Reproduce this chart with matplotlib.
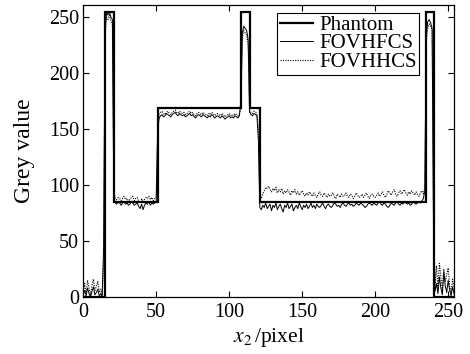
import numpy as np
import matplotlib
matplotlib.use("Agg")
import matplotlib.pyplot as plt

# Phantom step profile
phantom_edges = [0, 15, 21, 51, 108, 114, 121, 235, 240, 256]
phantom_levels = [0, 255, 85, 169, 255, 169, 85, 255, 0]

# FOVHFCS profile (one value per pixel)
fovhfcs = [
    2, 6, 1, 8, 3, 0, 5, 9, 2, 4,
    7, 1, 3, 0, 45, 240, 254, 252, 255, 250,
    248, 90, 84, 83, 85, 84, 82, 84, 85, 83,
    84, 82, 83, 85, 84, 82, 83, 84, 81, 79,
    83, 78, 82, 84, 83, 85, 82, 84, 83, 84,
    85, 150, 160, 162, 163, 161, 162, 164, 163, 162,
    161, 163, 164, 165, 163, 162, 164, 163, 162, 163,
    161, 162, 163, 164, 162, 163, 161, 160, 162, 163,
    162, 161, 163, 162, 161, 160, 162, 161, 163, 162,
    160, 161, 162, 161, 160, 162, 161, 159, 160, 161,
    162, 160, 161, 160, 162, 161, 160, 162, 175, 236,
    242, 240, 238, 230, 165, 163, 162, 164, 163, 162,
    140, 80, 78, 82, 80, 84, 79, 81, 83, 77,
    82, 80, 84, 78, 81, 83, 79, 76, 82, 80,
    84, 79, 81, 83, 77, 80, 82, 79, 84, 81,
    78, 82, 80, 83, 79, 81, 84, 80, 82, 79,
    83, 81, 80, 82, 84, 81, 79, 82, 83, 81,
    80, 82, 84, 83, 81, 82, 80, 83, 84, 82,
    81, 83, 84, 82, 83, 81, 82, 84, 83, 82,
    84, 83, 82, 80, 81, 83, 84, 83, 82, 84,
    83, 82, 84, 85, 83, 82, 84, 83, 81, 80,
    82, 84, 83, 82, 84, 85, 83, 82, 84, 83,
    85, 84, 83, 84, 82, 83, 85, 84, 83, 84,
    85, 84, 86, 88, 95, 235, 246, 248, 245, 240,
    60, 5, 12, 3, 18, 8, 2, 22, 10, 4,
    15, 6, 1, 9, 3, 0,
]

# FOVHHCS profile (one value per pixel)
fovhhcs = [
    5, 12, 3, 15, 8, 2, 10, 16, 6, 9,
    14, 4, 7, 2, 30, 235, 250, 248, 252, 246,
    244, 95, 88, 87, 89, 88, 86, 88, 90, 87,
    88, 86, 87, 89, 90, 86, 88, 89, 86, 84,
    88, 85, 87, 89, 88, 90, 87, 89, 86, 88,
    89, 140, 164, 165, 166, 164, 163, 165, 166, 164,
    163, 165, 166, 167, 165, 164, 166, 165, 164, 165,
    163, 164, 165, 166, 164, 165, 163, 162, 164, 165,
    164, 163, 165, 164, 163, 162, 164, 163, 165, 164,
    162, 163, 164, 163, 162, 164, 163, 161, 162, 163,
    164, 162, 163, 162, 164, 163, 162, 164, 170, 232,
    238, 236, 234, 225, 166, 165, 164, 166, 165, 164,
    150, 90, 88, 92, 95, 98, 97, 99, 96, 94,
    97, 95, 98, 93, 96, 94, 97, 92, 95, 93,
    96, 94, 91, 95, 93, 96, 92, 94, 91, 93,
    95, 92, 90, 93, 91, 94, 92, 90, 93, 91,
    89, 92, 94, 91, 90, 93, 91, 89, 92, 90,
    91, 93, 90, 88, 92, 91, 89, 92, 90, 91,
    93, 90, 89, 92, 91, 88, 90, 93, 91, 89,
    90, 92, 89, 91, 93, 90, 88, 91, 92, 90,
    89, 91, 93, 90, 92, 94, 91, 89, 92, 95,
    93, 91, 94, 96, 92, 90, 93, 95, 92, 94,
    96, 93, 91, 94, 92, 95, 93, 91, 94, 92,
    90, 93, 95, 92, 98, 228, 240, 244, 242, 238,
    55, 12, 28, 8, 30, 18, 6, 25, 14, 20,
    26, 10, 4, 16, 8, 2,
]

x_ticks = [0, 50, 100, 150, 200, 250]
y_ticks = [0, 50, 100, 150, 200, 250]

plt.rcParams['font.family'] = ['Liberation Serif', 'DejaVu Serif']
plt.rcParams['mathtext.fontset'] = 'stix'

fig = plt.figure(figsize=(4.70, 3.54), dpi=100)
ax = fig.add_axes([0.177, 0.161, 0.789, 0.825])

x = np.arange(len(fovhfcs))
ax.stairs(phantom_levels, phantom_edges, baseline=None, color='black', linewidth=1.6, label='Phantom')
ax.plot(x, fovhfcs, color='black', linewidth=0.7, label='FOVHFCS')
ax.plot(x, fovhhcs, color='black', linewidth=0.8, linestyle=(0, (1, 1.2)), label='FOVHHCS')

ax.set_xlim(0, 254)
ax.set_ylim(0, 261)
ax.set_xticks(x_ticks)
ax.set_yticks(y_ticks)
ax.tick_params(direction='in', top=True, right=True, length=4, width=0.8, labelsize=14.5)
ax.tick_params(axis='y', pad=3)
ax.tick_params(axis='x', pad=4)
for s in ax.spines.values():
    s.set_linewidth(0.9)

ax.set_xlabel(r'$x_2\,$/pixel', fontsize=15.5, labelpad=3)
ax.set_ylabel('Grey value', fontsize=17, labelpad=10)

leg = ax.legend(loc='upper right', bbox_to_anchor=(0.906, 0.973), fontsize=15,
                frameon=True, fancybox=False, edgecolor='black', framealpha=1,
                handlelength=1.6, handletextpad=0.3, borderpad=0.12, labelspacing=-0.05,
                borderaxespad=0)
leg.get_frame().set_linewidth(0.8)

fig.savefig('out.png', dpi=100)
